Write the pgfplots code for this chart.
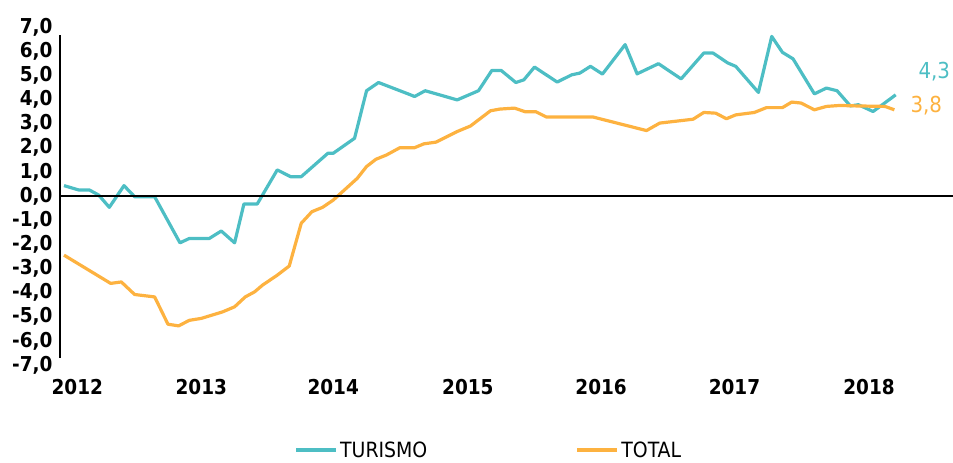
\documentclass[border=0pt]{standalone}
\usepackage{fontspec}
\setmainfont{DejaVu Sans Condensed}
\usepackage{pgfplots}
\pgfplotsset{compat=1.18}
\definecolor{Turismo}{HTML}{4DBEC4}
\definecolor{Total}{HTML}{FDB240}

\begin{document}
\begin{tikzpicture}
\begin{axis}[
  name=ax,
  scale only axis,
  width=893pt, height=338pt,
  xmin=2011.97, xmax=2018.67,
  ymin=-7, ymax=7,
  axis lines*=left,
  axis line style={draw=none},
  major tick style={draw=none},
  xtick={2012.1,2013.03,2014.02,2015.03,2016.03,2017.03,2018.04},
  xticklabels={2012,2013,2014,2015,2016,2017,2018},
  ytick={-7,-6,...,7},
  ticklabel style={font=\bfseries\fontsize{20.5}{20.5}\selectfont},
  yticklabel style={xshift=-4pt, /pgf/number format/.cd, use comma, fixed, fixed zerofill, precision=1, assume math mode=true},
  xticklabel style={yshift=-11pt},
  legend columns=2,
  legend style={draw=none, at={(axis description cs:0.48,-0.252)}, anchor=center,
    font=\fontsize{21}{21}\selectfont, /tikz/every even column/.append style={column sep=146pt}},
  legend image code/.code={\draw[#1, line width=4pt] (0pt,0pt) -- (40pt,0pt);},
  clip=false,
]
\addplot[Turismo, line width=3.2pt, line join=round] coordinates {
(2012.00,0.43) (2012.11,0.25) (2012.19,0.25) (2012.26,0.04) (2012.34,-0.47)
(2012.45,0.43) (2012.53,-0.03) (2012.68,-0.03) (2012.87,-1.94) (2012.94,-1.76)
(2013.09,-1.76) (2013.18,-1.45) (2013.28,-1.94) (2013.35,-0.33) (2013.45,-0.33)
(2013.60,1.08) (2013.70,0.80) (2013.78,0.80) (2013.98,1.77) (2014.02,1.77)
(2014.18,2.39) (2014.27,4.36) (2014.36,4.70) (2014.60,4.19) (2014.63,4.12)
(2014.71,4.36) (2014.95,3.98) (2015.11,4.36) (2015.21,5.20) (2015.28,5.20)
(2015.39,4.70) (2015.45,4.81) (2015.53,5.34) (2015.70,4.72) (2015.81,5.02)
(2015.87,5.09) (2015.95,5.37) (2016.04,5.05) (2016.21,6.27) (2016.30,5.06)
(2016.46,5.48) (2016.63,4.85) (2016.80,5.92) (2016.87,5.92) (2016.98,5.51)
(2017.04,5.37) (2017.21,4.29) (2017.31,6.61) (2017.39,5.95) (2017.47,5.68)
(2017.63,4.23) (2017.72,4.47) (2017.80,4.36) (2017.90,3.73) (2017.96,3.78)
(2018.07,3.50) (2018.14,3.78) (2018.24,4.19)
};
\addlegendentry{TURISMO}
\addplot[Total, line width=3.2pt, line join=round] coordinates {
(2012.00,-2.45) (2012.35,-3.62) (2012.43,-3.56) (2012.53,-4.08) (2012.68,-4.18)
(2012.78,-5.31) (2012.86,-5.38) (2012.94,-5.15) (2013.03,-5.07) (2013.19,-4.80)
(2013.28,-4.59) (2013.36,-4.18) (2013.43,-3.97) (2013.49,-3.69) (2013.60,-3.28)
(2013.69,-2.90) (2013.78,-1.13) (2013.86,-0.65) (2013.94,-0.47) (2014.02,-0.17)
(2014.20,0.73) (2014.27,1.22) (2014.34,1.52) (2014.42,1.70) (2014.52,2.00)
(2014.63,2.00) (2014.70,2.16) (2014.79,2.23) (2014.95,2.67) (2015.05,2.90)
(2015.20,3.53) (2015.27,3.60) (2015.38,3.64) (2015.46,3.49) (2015.54,3.49)
(2015.62,3.27) (2015.97,3.27) (2016.37,2.71) (2016.47,3.02) (2016.72,3.18)
(2016.80,3.46) (2016.89,3.43) (2016.97,3.20) (2017.04,3.36) (2017.18,3.46)
(2017.27,3.66) (2017.39,3.66) (2017.46,3.89) (2017.53,3.85) (2017.63,3.57)
(2017.72,3.71) (2017.82,3.75) (2017.95,3.73) (2018.16,3.71) (2018.23,3.57)
};
\addlegendentry{TOTAL}
\draw[black, line width=2.4pt] (axis cs:2011.97,0) -- (axis cs:2018.67,0);
\draw[black, line width=2.6pt] (axis cs:2011.97,-6.7) -- (axis cs:2011.97,6.65);
\node[Turismo, font=\fontsize{22}{22}\selectfont] at (axis cs:2018.53,5.15) {4,3};
\node[Total, font=\fontsize{22}{22}\selectfont] at (axis cs:2018.47,3.73) {3,8};
\end{axis}
\pgfresetboundingbox
\path (ax.south west) ++(-60pt,-98pt) coordinate (bl);
\path (ax.north east) ++(0pt,27pt) coordinate (tr);
\useasboundingbox (bl) rectangle (tr);
\end{tikzpicture}
\end{document}
